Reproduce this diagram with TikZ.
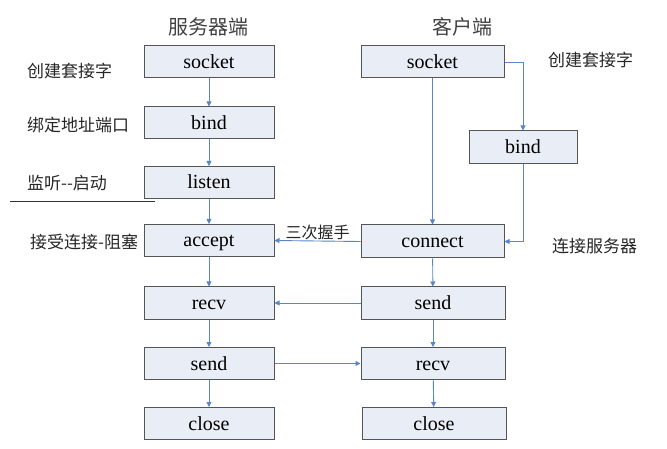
\documentclass[tikz,border=0pt]{standalone}
\usepackage{fontspec}
\setmainfont{Liberation Serif}
\newfontfamily\cjk{Noto Sans CJK SC}
\usetikzlibrary{arrows.meta}
\definecolor{boxfill}{HTML}{E8EDF6}
\definecolor{boxline}{HTML}{555555}
\definecolor{arr}{HTML}{5A86C4}
\tikzset{
  box/.style={draw=boxline, line width=1pt, fill=boxfill, minimum width=130pt, minimum height=32pt, inner sep=0pt, text height=15pt, text depth=2pt, font=\fontsize{20}{20}\selectfont},
  lbl/.style={font=\cjk\fontsize{17}{17}\selectfont, inner sep=0pt, anchor=west, text=black!85},
  head/.style={font=\cjk\fontsize{20}{20}\selectfont, inner sep=0pt, text=black!75},
  conn/.style={draw=arr, line width=0.9pt, -{Triangle[length=5pt,width=5pt]}}
}
\begin{document}
\begin{tikzpicture}[x=1pt,y=-1pt]
\useasboundingbox (0,0) rectangle (667,449);
% headings
\node[head] (hs) at (208,27) {服务器端};
\node[head] (hc) at (462,27) {客户端};
% server boxes
\node[box] (ssock) at (209,62) {socket};
\node[box] (sbind) at (209,123) {bind};
\node[box] (slisten) at (209,182.5) {listen};
\node[box] (saccept) at (209,240.5) {accept};
\node[box] (srecv) at (209,303) {recv};
\node[box] (ssend) at (209,363.5) {send};
\node[box] (sclose) at (209,423.5) {close};
% client boxes
\node[box, minimum width=143pt] (csock) at (432.5,62) {socket};
\node[box, minimum width=108pt, minimum height=33pt] (cbind) at (523,147.5) {bind};
\node[box, minimum width=143pt, minimum height=33pt] (cconn) at (432.5,241.5) {connect};
\node[box, minimum width=144pt] (csend) at (433,303) {send};
\node[box, minimum width=144pt] (crecv) at (433,363.5) {recv};
\node[box, minimum width=144pt] (cclose) at (434,423.5) {close};
% left labels
\node[lbl] (l1) at (27,71) {创建套接字};
\node[lbl] (l2) at (27,125) {绑定地址端口};
\node[lbl] (l3) at (27,183) {监听--启动};
\node[lbl] (l4) at (30,242) {接受连接-阻塞};
\coordinate (ha) at (10,201);
\coordinate (hb) at (155,201);
\draw[line width=0.9pt, black!80] (ha) -- (hb);
% right labels
\node[lbl] (r1) at (548,60) {创建套接字};
\node[lbl] (r2) at (552,246) {连接服务器};
% server arrows
\draw[conn] (ssock) -- (sbind);
\draw[conn] (sbind) -- (slisten);
\draw[conn] (slisten) -- (saccept);
\draw[conn] (saccept) -- (srecv);
\draw[conn] (srecv) -- (ssend);
\draw[conn] (ssend) -- (sclose);
% client arrows
\draw[conn] (csock) -- (cconn);
\draw[conn] (csock.east) -| (cbind.north);
\draw[conn] (cbind.south) |- (cconn.east);
\draw[conn] (cconn) -- (csend);
\draw[conn] (csend) -- (crecv);
\draw[conn] (crecv) -- (cclose);
% cross arrows
\draw[conn] (cconn.west) -- node[pos=0.5, above=1pt, font=\cjk\fontsize{16}{16}\selectfont, inner sep=0pt, text=black!85] (hand) {三次握手} (saccept.east);
\draw[conn] (csend.west) -- (srecv.east);
\draw[conn] (ssend.east) -- (crecv.west);
\end{tikzpicture}
\end{document}
